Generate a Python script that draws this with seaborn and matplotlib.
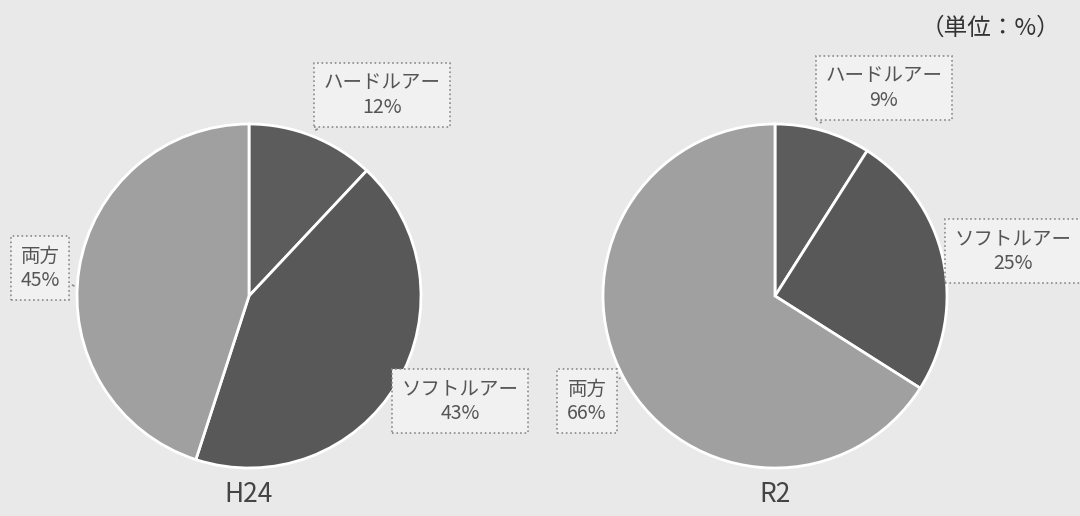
import matplotlib
matplotlib.use("Agg")
import matplotlib.pyplot as plt
import seaborn as sns

# shares of lure type (percent), clockwise from 12 o'clock
categories = ["ハードルアー", "ソフトルアー", "両方"]
h24_values = [12, 43, 45]
r2_values = [9, 25, 66]
years = ["H24", "R2"]

sns.set_style("white")
plt.rcParams["font.family"] = ["Noto Sans CJK JP", "DejaVu Sans"]

bg = "#e9e9e9"
colors = ["#5c5c5c", "#585858", "#a0a0a0"]

fig = plt.figure(figsize=(10.8, 5.16), dpi=100, facecolor=bg)
# one axes over the whole figure, units = pixels (y up)
ax = fig.add_axes([0, 0, 1, 1])
ax.set_facecolor(bg)

radius = 172
centers = [(249, 516 - 296), (775, 516 - 296)]

for vals, c in zip([h24_values, r2_values], centers):
    ax.pie(vals, colors=colors, startangle=90, counterclock=False,
           center=c, radius=radius, frame=True,
           wedgeprops=dict(edgecolor="white", linewidth=2))
ax.set_xlim(0, 1080)
ax.set_ylim(0, 516)
ax.set_aspect("equal")
ax.axis("off")

box = dict(boxstyle="square,pad=0.5", fc="#f1f1f1", ec="#8a8a8a", lw=1.2, ls=":")
arrow = dict(arrowstyle="-", color="#8a8a8a", lw=1.2, ls=":")

# (text position, point on pie) in pixel coords, y measured from top
label_pos = [
    [((382, 95), (312, 132)), ((460, 401), (404, 378)), ((40, 268), (78, 288))],
    [((884, 88), (818, 124)), ((1013, 251), (947, 262)), ((587, 401), (620, 378))],
]
for vals, pos in zip([h24_values, r2_values], label_pos):
    for cat, v, (txt, pt) in zip(categories, vals, pos):
        ax.annotate(f"{cat}\n{v}%", xy=(pt[0], 516 - pt[1]),
                    xytext=(txt[0], 516 - txt[1]), ha="center", va="center",
                    fontsize=14, color="#555555", linespacing=1.2,
                    bbox=box, arrowprops=arrow)

for name, c in zip(years, centers):
    ax.text(c[0], 516 - 494, name, ha="center", va="center", fontsize=19, color="#444444")

ax.text(1060, 516 - 28, "（単位：%）", ha="right", va="center", fontsize=17, color="#333333")

fig.savefig("out.png", dpi=100, facecolor=bg)
